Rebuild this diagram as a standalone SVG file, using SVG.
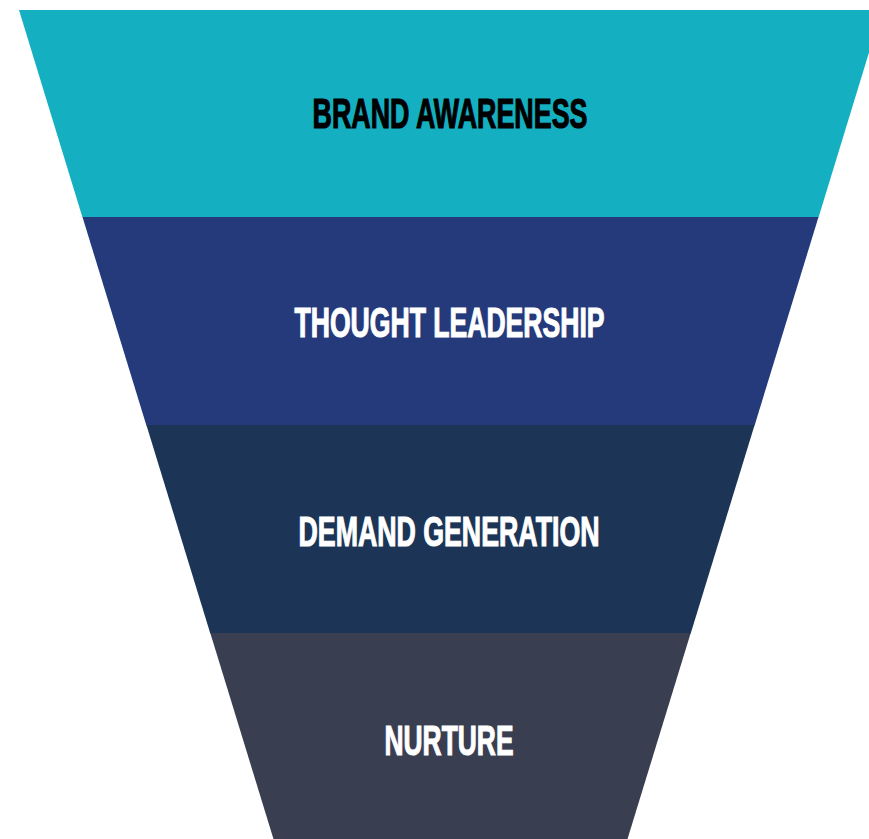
<svg xmlns="http://www.w3.org/2000/svg" width="869" height="839" viewBox="0 0 869 839">
  <style>
    .lbl { font-family: "Liberation Sans", Arial, sans-serif; font-weight: bold; font-size: 43px; stroke-width: 1.2px; stroke-linejoin: miter; }
    .dark { fill: #000000; stroke: #000000; }
    .light { fill: #FFFFFF; stroke: #FFFFFF; }
  </style>
  <rect x="0" y="0" width="869" height="839" fill="#FFFFFF"/>
  <g id="connectors"></g>
  <g id="brand-awareness">
    <polygon points="19,10 882,10 818.5,217.5 82.5,217.5" fill="#14B0C2"/>
    <text class="lbl dark" x="312.5" y="128" textLength="275" lengthAdjust="spacingAndGlyphs">BRAND AWARENESS</text>
  </g>
  <g id="thought-leadership">
    <polygon points="82.5,217 818.5,217 754.6,425.5 146.4,425.5" fill="#243A7B"/>
    <text class="lbl light" x="294.5" y="337" textLength="310" lengthAdjust="spacingAndGlyphs">THOUGHT LEADERSHIP</text>
  </g>
  <g id="demand-generation">
    <polygon points="146.4,425 754.6,425 690.7,633.5 210.3,633.5" fill="#1C3557"/>
    <text class="lbl light" x="298.5" y="546" textLength="301" lengthAdjust="spacingAndGlyphs">DEMAND GENERATION</text>
  </g>
  <g id="nurture">
    <polygon points="210.3,633 690.7,633 627.2,840 273.8,840" fill="#393E50"/>
    <text class="lbl light" x="384.5" y="754.5" textLength="129" lengthAdjust="spacingAndGlyphs">NURTURE</text>
  </g>
</svg>
